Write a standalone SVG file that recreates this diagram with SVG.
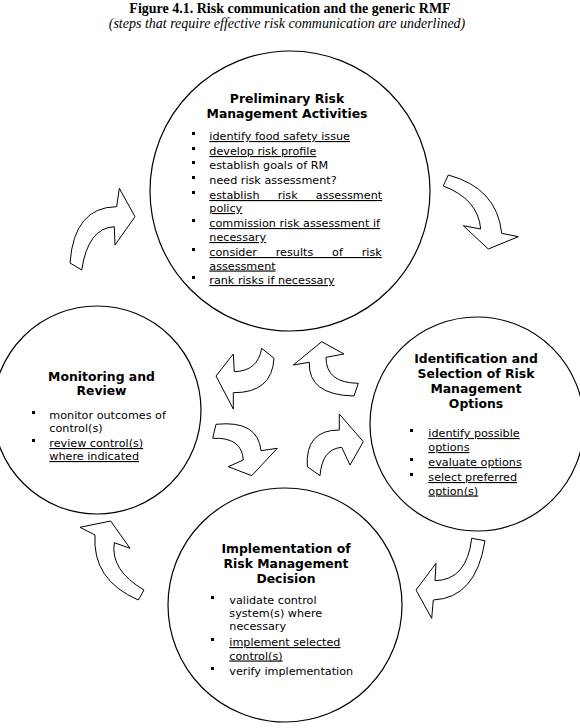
<svg xmlns="http://www.w3.org/2000/svg" width="580" height="728" viewBox="0 0 580 728">
<style>
.c{fill:#fff;stroke:#000;stroke-width:1.2}
.a{fill:#fff;stroke:#000;stroke-width:1;stroke-linejoin:miter}
.h{font-family:"DejaVu Sans",Verdana,sans-serif;font-size:12.4px;font-weight:bold;text-anchor:middle;fill:#000}
.t{font-family:"DejaVu Sans",Verdana,sans-serif;font-size:11.2px;fill:#000}
.u{text-decoration:underline}
.ti{font-family:"Liberation Serif","Times New Roman",serif;font-size:14px;text-anchor:middle;fill:#000}
</style>
<defs><rect id="bl" width="3" height="3" fill="#000"/></defs>
<rect width="580" height="728" fill="#fff"/>
<g id="title">
<text class="ti" x="290" y="12.5" font-weight="bold">Figure 4.1. Risk communication and the generic RMF</text>
<text class="ti" x="287" y="27.5" font-style="italic" font-size="13.6">(steps that require effective risk communication are underlined)</text>
</g>
<g id="connectors">
<path class="a" d="M70,263 Q74,207 116.7,206.7 L119.3,188.3 L135,216.7 L115,245 L114.3,226.7 Q88,228 81.7,270 Z"/>
<path class="a" d="M448.3,175 Q497,188 501.7,233.3 L518.3,236.7 L488.3,249 L463.3,225.7 L480.7,229 Q478,199 443.3,186 Z"/>
<path class="a" d="M485,540.7 Q476,598 433.3,600 L431.7,618.3 L416,590 L436,563.3 L435,580.7 Q467,580 471.7,538.3 Z"/>
<path class="a" d="M138.3,600 Q92,580 95,535 L80,527.3 L110.7,521 L130,548.3 L114.3,542.7 Q110,570 144,590 Z"/>
<path class="a" d="M261.7,348.3 L274,358.3 Q272,393 233.3,392.7 L233.3,409 L216,376 L233.3,354 L234.3,371.7 Q258,371 261.7,348.3 Z"/>
<path class="a" d="M293.3,365 L321.7,341.7 L344,354 L326,357.3 Q326,383 358.3,383.3 L354,396 Q308,395 309.3,362.3 Z"/>
<path class="a" d="M216,424.3 Q258,420 261,450.7 L277.3,448.3 L251.7,475.7 L228.3,466.7 L243.3,460 Q242,437 212.7,438.3 Z"/>
<path class="a" d="M307.3,466.7 Q305,430 339.3,430 L339.3,414 L363.3,441.7 L350,465 L341.7,447.3 Q322,449 320,475.7 Z"/>
</g>
<g id="preliminary">
<circle class="c" cx="290" cy="191" r="140"/>
<text class="h" x="287" y="102.5">Preliminary Risk</text>
<text class="h" x="287" y="117.5">Management Activities</text>
<use href="#bl" x="192" y="132"/><text class="t u" x="209.3" y="140">identify food safety issue</text>
<use href="#bl" x="192" y="147"/><text class="t u" x="209.3" y="155">develop risk profile</text>
<use href="#bl" x="192" y="161"/><text class="t" x="209.3" y="169">establish goals of RM</text>
<use href="#bl" x="192" y="176"/><text class="t" x="209.3" y="184">need risk assessment?</text>
<use href="#bl" x="192" y="191"/><text class="t u" x="209.3" y="199" word-spacing="14.6">establish risk assessment</text>
<text class="t u" x="209.3" y="212">policy</text>
<use href="#bl" x="192" y="219"/><text class="t u" x="209.3" y="227">commission risk assessment if</text>
<text class="t u" x="209.3" y="241">necessary</text>
<use href="#bl" x="192" y="248"/><text class="t u" x="209.3" y="256" word-spacing="15.3">consider results of risk</text>
<text class="t u" x="209.3" y="269.5">assessment</text>
<use href="#bl" x="192" y="276"/><text class="t u" x="209.3" y="284">rank risks if necessary</text>
</g>
<g id="identification">
<circle class="c" cx="477" cy="424" r="107"/>
<text class="h" x="476" y="363">Identification and</text>
<text class="h" x="476" y="378">Selection of Risk</text>
<text class="h" x="476" y="393">Management</text>
<text class="h" x="476" y="408">Options</text>
<use href="#bl" x="410" y="429"/><text class="t u" x="428.3" y="437">identify possible</text>
<text class="t u" x="428.3" y="451">options</text>
<use href="#bl" x="410" y="458"/><text class="t u" x="428.3" y="466">evaluate options</text>
<use href="#bl" x="410" y="473"/><text class="t u" x="428.3" y="481">select preferred</text>
<text class="t u" x="428.3" y="494.5">option(s)</text>
</g>
<g id="monitoring">
<circle class="c" cx="97" cy="410" r="104"/>
<text class="h" x="101.5" y="381">Monitoring and</text>
<text class="h" x="101.5" y="395">Review</text>
<use href="#bl" x="32" y="411"/><text class="t" x="49.3" y="419">monitor outcomes of</text>
<text class="t" x="49.3" y="432">control(s)</text>
<use href="#bl" x="32" y="439"/><text class="t u" x="49.3" y="447">review control(s)</text>
<text class="t u" x="49.3" y="460">where indicated</text>
</g>
<g id="implementation">
<circle class="c" cx="285" cy="605" r="117"/>
<text class="h" x="286" y="552.5">Implementation of</text>
<text class="h" x="286" y="567.5">Risk Management</text>
<text class="h" x="286" y="583">Decision</text>
<use href="#bl" x="211" y="596"/><text class="t" x="229.3" y="604">validate control</text>
<text class="t" x="229.3" y="617">system(s) where</text>
<text class="t" x="229.3" y="630">necessary</text>
<use href="#bl" x="211" y="638"/><text class="t u" x="229.3" y="646">implement selected</text>
<text class="t u" x="229.3" y="659.5">control(s)</text>
<use href="#bl" x="211" y="667"/><text class="t" x="229.3" y="675">verify implementation</text>
</g>
</svg>
